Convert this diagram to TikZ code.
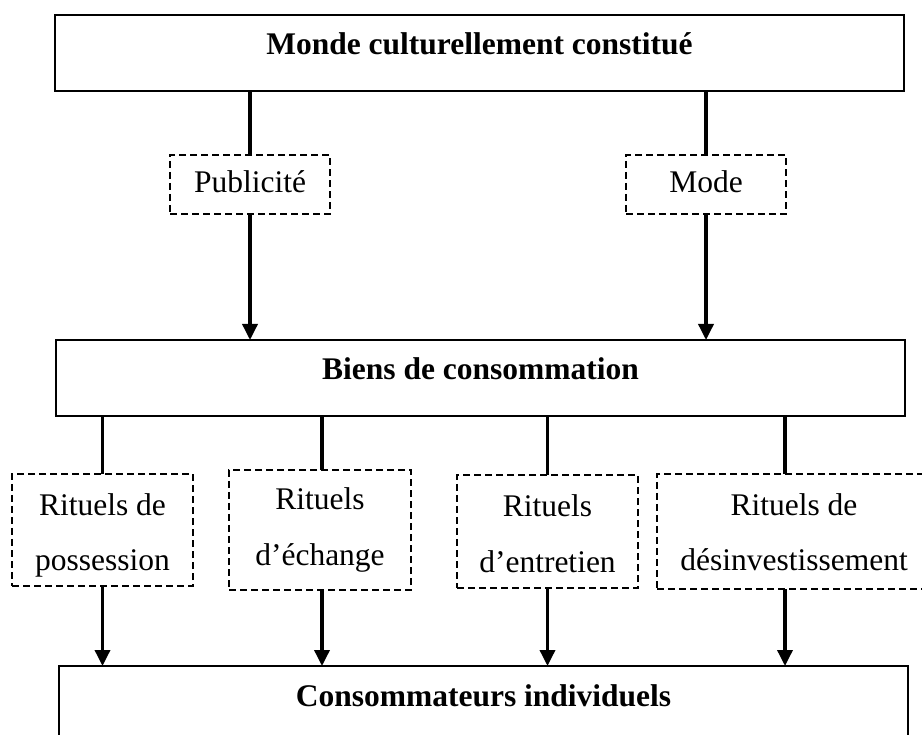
\documentclass[tikz,border=0pt]{standalone}
\usepackage{fontspec}
\setmainfont{Liberation Serif}
\usetikzlibrary{arrows.meta}
\begin{document}
\begin{tikzpicture}[x=1pt,y=-1pt,
  base/.style={inner sep=0pt, outer sep=0pt, font=\fontsize{31.5pt}{38pt}\selectfont},
  solidbox/.style={base, draw, line width=1.8pt, font=\fontsize{31.5pt}{38pt}\selectfont\bfseries, minimum width=849pt, text height=40pt},
  dbox/.style={base, draw, line width=1.5pt, dash pattern=on 7pt off 4pt},
  txt/.style={base, anchor=base},
  conn/.style={line width=3.5pt},
  arr/.style={line width=3.5pt, -{Triangle[length=16pt,width=15pt]}}]
\useasboundingbox (0,0) rectangle (922,735);
\clip (0,0) rectangle (922,735);
% main boxes
\node[solidbox, text depth=36pt, anchor=north] (top) at (479.5,15) {Monde culturellement constitué};
\node[solidbox, text depth=36pt, anchor=north] (biens) at (480.5,340) {Biens de consommation};
\node[solidbox, text depth=90pt, anchor=north] (cons) at (483.5,666) {Consommateurs individuels};
% dashed boxes, first level
\node[dbox, minimum width=160pt, text height=38pt, text depth=21pt, anchor=north] (pub) at (250,155) {Publicité};
\node[dbox, minimum width=160pt, text height=38pt, text depth=21pt, anchor=north] (mode) at (706,155) {Mode};
% ritual boxes
\node[dbox, minimum width=181pt, minimum height=112pt, anchor=north west] (r1) at (12,474) {};
\node[dbox, minimum width=182pt, minimum height=120pt, anchor=north west] (r2) at (229,470) {};
\node[dbox, minimum width=181pt, minimum height=113pt, anchor=north west] (r3) at (457,475) {};
\node[dbox, minimum width=274pt, minimum height=115pt, anchor=north west] (r4) at (657,474) {};
\node[txt] (r1a) at (r1.north |- 0,515) {Rituels de};
\node[txt] (r1b) at (r1.north |- 0,570) {possession};
\node[txt] (r2a) at (r2.north |- 0,510) {Rituels};
\node[txt] (r2b) at (r2.north |- 0,565) {d’échange};
\node[txt] (r3a) at (r3.north |- 0,517) {Rituels};
\node[txt] (r3b) at (r3.north |- 0,572) {d’entretien};
\node[txt] (r4a) at (r4.north |- 0,515) {Rituels de};
\node[txt] (r4b) at (r4.north |- 0,570) {désinvestissement};
% connectors
\draw[conn] (top.south -| pub.north) -- (pub.north);
\draw[arr] (pub.south) -- (pub.south |- biens.north);
\draw[conn] (top.south -| mode.north) -- (mode.north);
\draw[arr] (mode.south) -- (mode.south |- biens.north);
\draw[conn] (biens.south -| r1.north) -- (r1.north);
\draw[arr] (r1.south) -- (r1.south |- cons.north);
\draw[conn] ([xshift=2pt]biens.south -| r2.north) -- ([xshift=2pt]r2.north);
\draw[arr] ([xshift=2pt]r2.south) -- ([xshift=2pt]r2.south |- cons.north);
\draw[conn] (biens.south -| r3.north) -- (r3.north);
\draw[arr] (r3.south) -- (r3.south |- cons.north);
\draw[conn] ([xshift=-9pt]biens.south -| r4.north) -- ([xshift=-9pt]r4.north);
\draw[arr] ([xshift=-9pt]r4.south) -- ([xshift=-9pt]r4.south |- cons.north);
\end{tikzpicture}
\end{document}
